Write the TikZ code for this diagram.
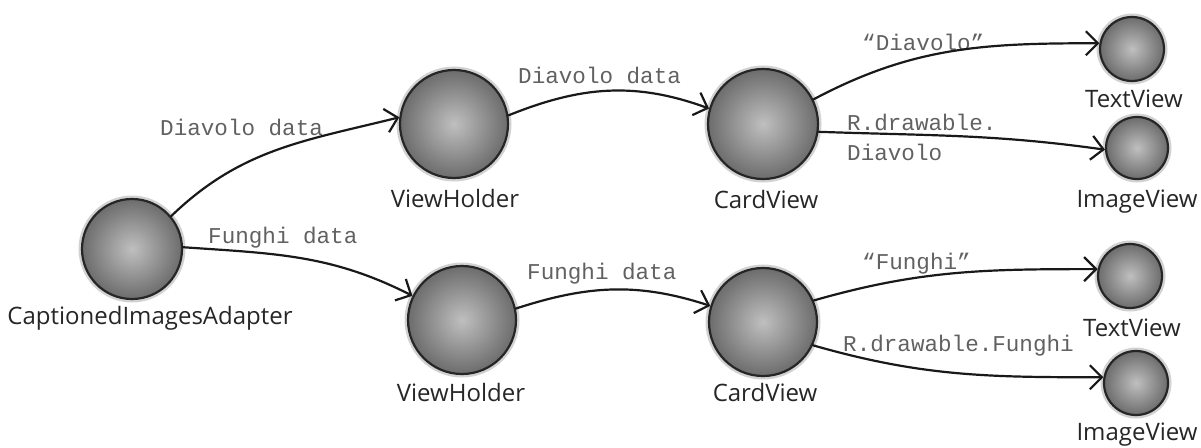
\documentclass[tikz,border=0pt]{standalone}
\usepackage{fontspec}
\setmainfont{Open Sans}
\newfontfamily\codefont{Liberation Mono}
\usetikzlibrary{arrows.meta}
\begin{document}
\begin{tikzpicture}[x=1pt,y=-1pt,
  ball/.style={circle, minimum size=#1, inner sep=0pt, draw=black!85, line width=2.2pt,
    inner color=gray!50, outer color=gray!85!black,
    preaction={draw=gray!35, line width=7pt}},
  lbl/.style={font=\fontsize{24}{28}\selectfont, text=black!85, inner sep=0pt, anchor=base},
  code/.style={font=\codefont\fontsize{22.6}{26}\selectfont, text=black!62, inner sep=0pt, anchor=base west},
  link/.style={line width=2.2pt, line cap=round, draw=black!90,
    -{Straight Barb[length=12pt,width=24pt,line width=2.2pt]}},
]
\useasboundingbox (0,0) rectangle (1201,447);

% circles
\node[ball=100pt] (ad)  at (132,249) {};
\node[ball=108pt] (vh1) at (454,124) {};
\node[ball=108pt] (vh2) at (462,320) {};
\node[ball=110pt] (cv1) at (763,124) {};
\node[ball=108pt] (cv2) at (763,322) {};
\node[ball=64pt]  (tv1) at (1132,49) {};
\node[ball=62pt]  (iv1) at (1137,148) {};
\node[ball=64pt]  (tv2) at (1130,276) {};
\node[ball=64pt]  (iv2) at (1136,383) {};

% component names
\node[lbl] (adl)  at (150,324) {CaptionedImagesAdapter};
\node[lbl] (vh1l) at (455,207) {ViewHolder};
\node[lbl] (vh2l) at (461,401) {ViewHolder};
\node[lbl] (cv1l) at (766,208) {CardView};
\node[lbl] (cv2l) at (765,401) {CardView};
\node[lbl] (tv1l) at (1134,107) {TextView};
\node[lbl] (iv1l) at (1137,207) {ImageView};
\node[lbl] (tv2l) at (1132,336) {TextView};
\node[lbl] (iv2l) at (1137,440) {ImageView};

% data labels
\node[code] (d1) at (160,135) {Diavolo data};
\node[code] (d2) at (518,83)  {Diavolo data};
\node[code] (f1) at (208,243) {Funghi data};
\node[code] (f2) at (527,279) {Funghi data};
\node[code] (d3) at (862,50)  {“Diavolo”};
\node[code] (d4) at (847,130) {R.drawable.};
\node[code] (d5) at (847,160) {Diavolo};
\node[code] (f3) at (862,269) {“Funghi”};
\node[code] (f4) at (843,351) {R.drawable.Funghi};

% connectors
\draw[link] (ad.40)   to[out=44,in=194]  (vh1.173);
\draw[link] (ad.2)    to[out=-4,in=153]  (vh2.154);
\draw[link] (vh1.9)   to[out=22,in=160]  (cv1.164);
\draw[link] (vh2.12)  to[out=18,in=162]  (cv2.163);
\draw[link] (cv1.26)  to[out=28,in=180]  (tv1.170);
\draw[link] (cv1.-8)  to[out=-2,in=172]  (iv1.183);
\draw[link] (cv2.23)  to[out=16,in=180]  (tv2.168);
\draw[link] (cv2.-25) to[out=-16,in=180] (iv2.170);
\end{tikzpicture}
\end{document}
